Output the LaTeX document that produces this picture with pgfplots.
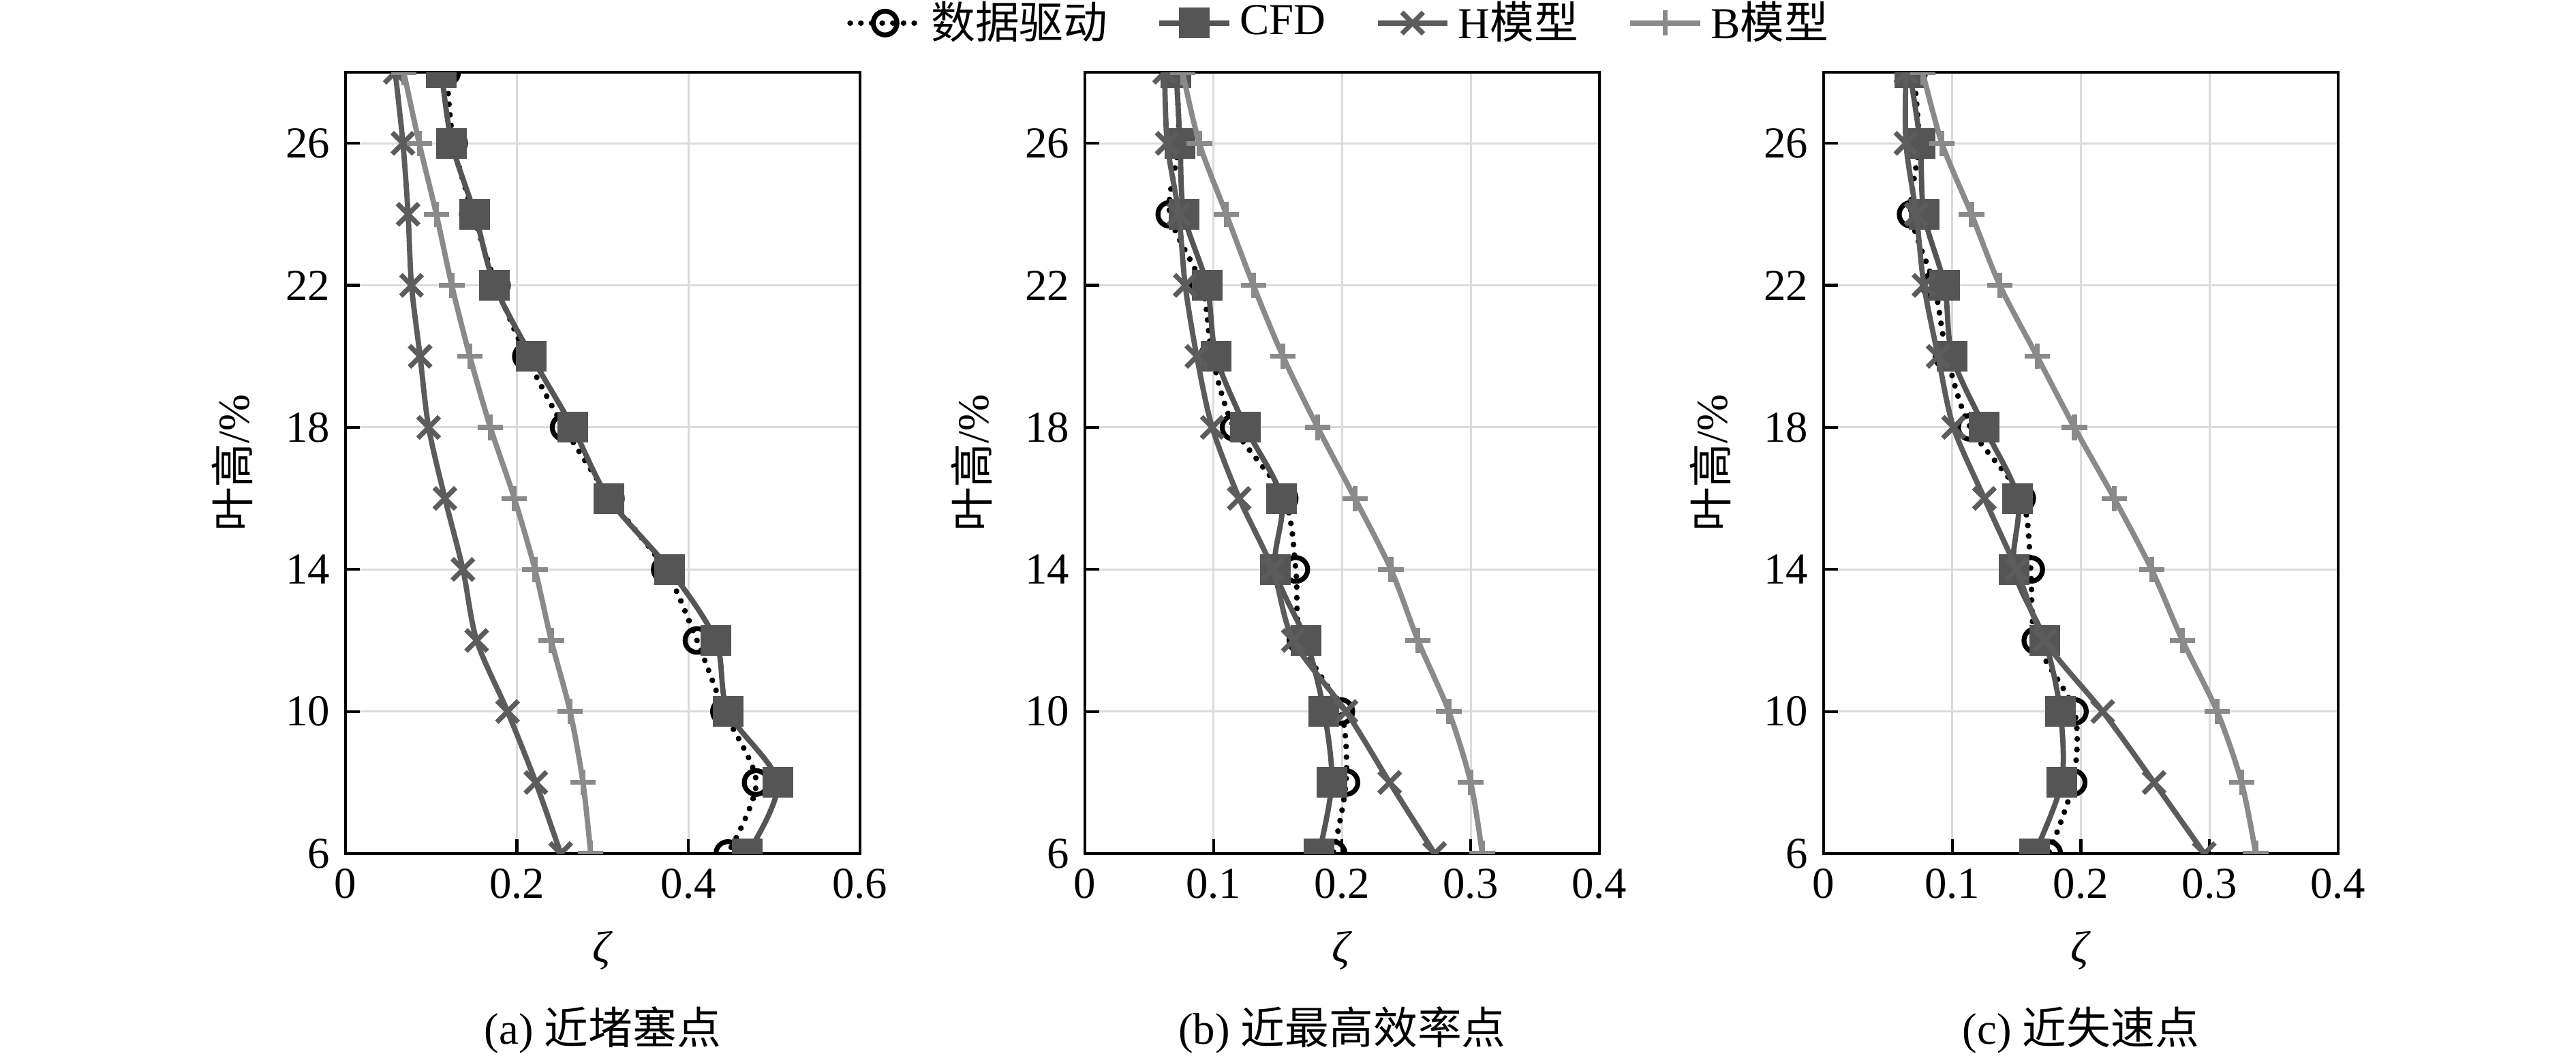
\documentclass[border=0pt]{standalone}
\usepackage{pgfplots}
\pgfplotsset{compat=1.18}
\usepackage{fontspec}
\setmainfont{Liberation Serif}
\newfontfamily\cjk{Noto Sans CJK SC}
\definecolor{cfdc}{HTML}{555555}
\definecolor{hc}{HTML}{5C5C5C}
\definecolor{bc}{HTML}{8A8A8A}
\pgfplotsset{
 panel/.style={
  scale only axis, width=125.8pt, height=191pt, anchor=south west,
  ymin=6, ymax=28, ytick={6,10,14,18,22,26}, xmin=0,
  grid=major, major grid style={line width=0.5pt, color=black!14},
  axis line style={line width=0.7pt},
  tick align=inside, xtick pos=bottom, ytick pos=left,
  major tick length=3.5pt, tick style={line width=0.7pt, black},
  /pgf/number format/assume math mode=true,
  xticklabel style={/pgf/number format/fixed},
  xlabel={\textit{ζ}}, xlabel style={at={(axis description cs:0.5,-0.124)}, anchor=center},
  ylabel={{\cjk 叶高}/\%}, ylabel style={at={(axis description cs:-0.22,0.5)}, anchor=center},
  clip marker paths=true,
 },
 dd/.style={black, line width=1.4pt, line cap=round, dash pattern=on 0.01pt off 2.6pt, smooth,
   mark=o, mark size=2.9pt, mark options={solid, line width=1.2pt}},
 cfd/.style={cfdc, solid, line width=1.3pt, smooth, mark=square*, mark size=3.1pt, mark options={solid, fill=cfdc}},
 hm/.style={hc, solid, line width=1.3pt, smooth, mark=x, mark size=3.7pt, mark options={solid, line width=1.2pt}},
 bm/.style={bc, solid, line width=1.3pt, smooth, mark=+, mark size=3.1pt, mark options={solid, line width=1.2pt}},
}
\begin{document}
\fontsize{10.8}{13}\selectfont
\begin{tikzpicture}
\path (0,0) rectangle (630pt,258pt);
% panel a
\begin{axis}[panel, name=ax1, at={(84.5pt,49.33pt)}, xmax=0.6, xtick={0,0.2,0.4,0.6}]
\addplot[dd] coordinates {(0.118,28)(0.126,26)(0.149,24)(0.176,22)(0.211,20)(0.255,18)(0.309,16)(0.373,14)(0.41,12)(0.442,10)(0.479,8)(0.446,6)};
\addplot[cfd] coordinates {(0.112,28)(0.124,26)(0.151,24)(0.174,22)(0.217,20)(0.265,18)(0.307,16)(0.378,14)(0.432,12)(0.446,10)(0.504,8)(0.469,6)};
\addplot[hm] coordinates {(0.058,28)(0.067,26)(0.073,24)(0.077,22)(0.087,20)(0.097,18)(0.116,16)(0.137,14)(0.153,12)(0.189,10)(0.222,8)(0.251,6)};
\addplot[bm] coordinates {(0.068,28)(0.086,26)(0.106,24)(0.124,22)(0.145,20)(0.169,18)(0.197,16)(0.221,14)(0.24,12)(0.262,10)(0.277,8)(0.286,6)};
\end{axis}
% panel b
\begin{axis}[panel, name=ax2, at={(265.33pt,49.33pt)}, xmax=0.4, xtick={0,0.1,0.2,0.3,0.4},
  legend columns=4,
  legend style={at={(0.5,1.063)}, anchor=center, draw=none, fill=none,
    /tikz/every even column/.append style={column sep=10pt}},
  ]
\addplot[dd] coordinates {(0.071,28)(0.073,26)(0.066,24)(0.091,22)(0.099,20)(0.116,18)(0.155,16)(0.164,14)(0.168,12)(0.199,10)(0.203,8)(0.193,6)};
\addlegendentry{{\cjk 数据驱动}}
\addplot[cfd] coordinates {(0.071,28)(0.074,26)(0.077,24)(0.095,22)(0.102,20)(0.125,18)(0.153,16)(0.148,14)(0.172,12)(0.186,10)(0.192,8)(0.182,6)};
\addlegendentry{CFD}
\addplot[hm] coordinates {(0.062,28)(0.064,26)(0.073,24)(0.078,22)(0.087,20)(0.099,18)(0.12,16)(0.146,14)(0.162,12)(0.203,10)(0.237,8)(0.272,6)};
\addlegendentry{H{\cjk 模型}}
\addplot[bm] coordinates {(0.076,28)(0.089,26)(0.11,24)(0.131,22)(0.154,20)(0.181,18)(0.21,16)(0.238,14)(0.259,12)(0.283,10)(0.3,8)(0.309,6)};
\addlegendentry{B{\cjk 模型}}
\end{axis}
% panel c
\begin{axis}[panel, name=ax3, at={(446pt,49.33pt)}, xmax=0.4, xtick={0,0.1,0.2,0.3,0.4}]
\addplot[dd] coordinates {(0.07,28)(0.074,26)(0.068,24)(0.086,22)(0.096,20)(0.114,18)(0.154,16)(0.161,14)(0.165,12)(0.195,10)(0.194,8)(0.175,6)};
\addplot[cfd] coordinates {(0.067,28)(0.075,26)(0.078,24)(0.094,22)(0.1,20)(0.125,18)(0.151,16)(0.148,14)(0.172,12)(0.184,10)(0.185,8)(0.164,6)};
\addplot[hm] coordinates {(0.064,28)(0.064,26)(0.072,24)(0.078,22)(0.089,20)(0.101,18)(0.125,16)(0.15,14)(0.172,12)(0.217,10)(0.257,8)(0.296,6)};
\addplot[bm] coordinates {(0.077,28)(0.092,26)(0.115,24)(0.137,22)(0.166,20)(0.195,18)(0.226,16)(0.255,14)(0.279,12)(0.306,10)(0.325,8)(0.336,6)};
\end{axis}
\node at ([yshift=-43.2pt]ax1.south) {(a) {\cjk 近堵塞点}};
\node at ([yshift=-43.2pt]ax2.south) {(b) {\cjk 近最高效率点}};
\node at ([yshift=-43.2pt]ax3.south) {(c) {\cjk 近失速点}};
\pgfresetboundingbox
\path[use as bounding box] (0,0) rectangle (630pt,258pt);
\end{tikzpicture}
\end{document}
